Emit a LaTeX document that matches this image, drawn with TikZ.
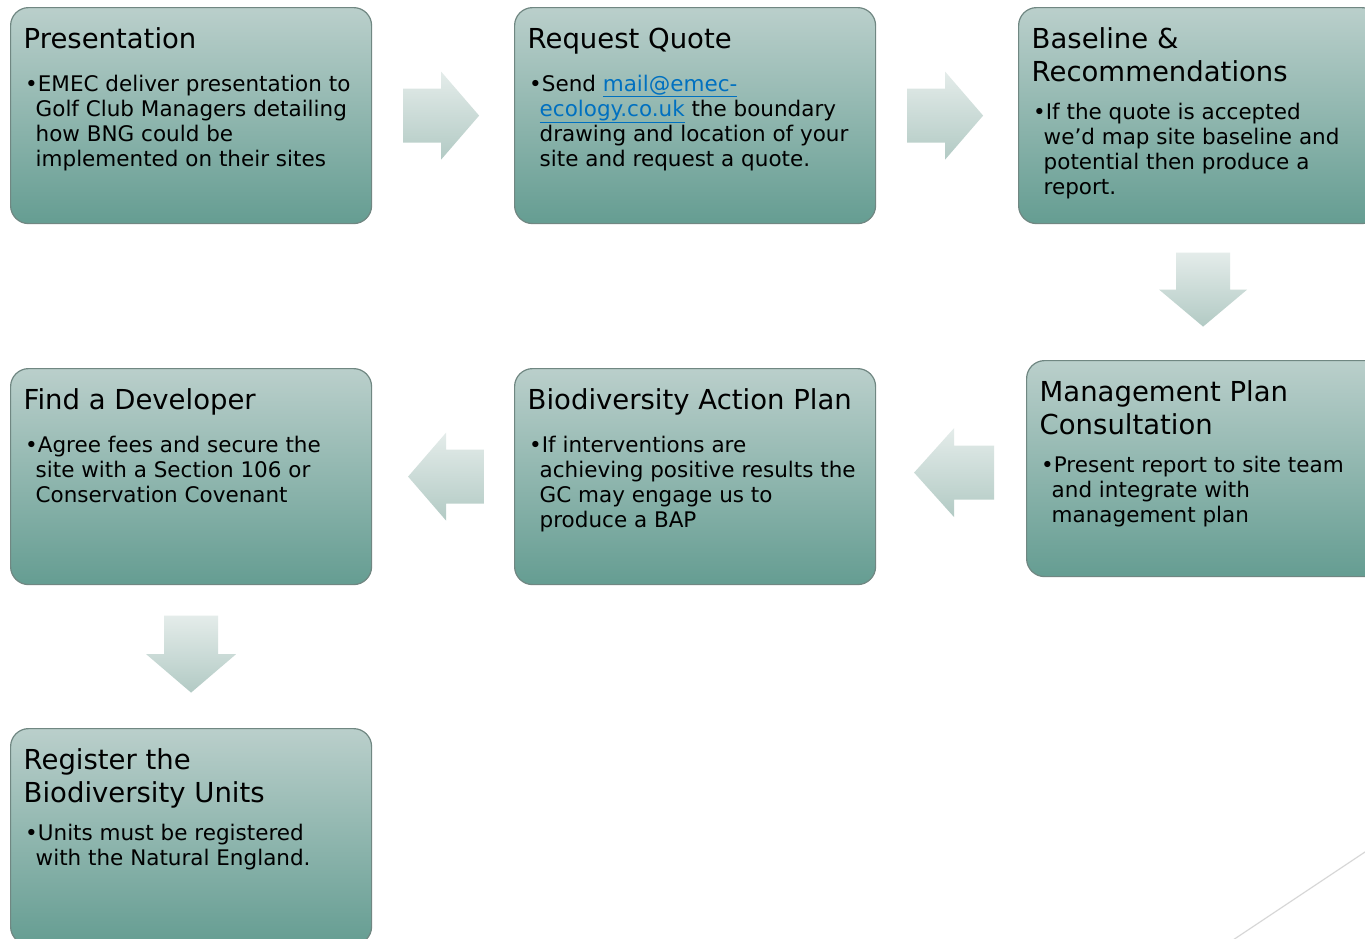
\documentclass[tikz,border=0pt]{standalone}
\usepackage{fontspec}
\setmainfont{DejaVu Sans}
\usetikzlibrary{calc}
\definecolor{boxtop}{RGB}{186,207,203}
\definecolor{boxbot}{RGB}{101,157,146}
\definecolor{boxline}{RGB}{112,135,130}
\definecolor{arrtop}{RGB}{228,236,234}
\definecolor{arrbot}{RGB}{178,202,196}
\definecolor{linkblue}{RGB}{0,112,192}
\definecolor{decoline}{RGB}{215,215,215}
\tikzset{
  stepbox/.style={draw=boxline, line width=1.2pt, rounded corners=18pt,
    top color=boxtop, bottom color=boxbot, minimum width=361pt,
    minimum height=216pt, anchor=north west, inner sep=0pt},
  headtext/.style={anchor=base west, inner sep=0pt, text=black,
    font=\fontsize{27.5}{33}\selectfont},
  bodytext/.style={anchor=base west, inner sep=0pt, text=black,
    font=\fontsize{21.5}{25.3}\selectfont},
  blockarrow/.style={top color=arrtop, bottom color=arrbot, draw=none},
}
\begin{document}
\begin{tikzpicture}[x=1pt,y=-1pt]
\useasboundingbox (0,0) rectangle (1365,938);
\clip (0,0) rectangle (1365,938);
\fill[white] (0,0) rectangle (1365,938);

% boxes
\node[stepbox] (b1) at (10,7) {};
\node[stepbox] (b2) at (514,7) {};
\node[stepbox] (b3) at (1018,7) {};
\node[stepbox] (b4) at (1026,360) {};
\node[stepbox] (b5) at (514,368) {};
\node[stepbox] (b6) at (10,368) {};
\node[stepbox] (b7) at (10,728) {};

% texts
\node[headtext] (h1) at ($(b1.north west)+(13.5,41)$) {Presentation};
\node[bodytext] (t1) at ($(b1.north west)+(15,84)$) {\begin{tabular}[t]{@{}l@{}}
\textbullet EMEC deliver presentation to\\
\hspace*{10.5pt}Golf Club Managers detailing\\
\hspace*{10.5pt}how BNG could be\\
\hspace*{10.5pt}implemented on their sites\end{tabular}};

\node[headtext] (h2) at ($(b2.north west)+(13.5,41)$) {Request Quote};
\node[bodytext] (t2) at ($(b2.north west)+(15,84)$) {\begin{tabular}[t]{@{}l@{}}
\textbullet Send \textcolor{linkblue}{\underline{mail@emec-}}\\
\hspace*{10.5pt}\textcolor{linkblue}{\underline{ecology.co.uk}} the boundary\\
\hspace*{10.5pt}drawing and location of your\\
\hspace*{10.5pt}site and request a quote.\end{tabular}};

\node[headtext] (h3) at ($(b3.north west)+(13.5,41)$) {\begin{tabular}[t]{@{}l@{}}
Baseline \&\\ Recommendations\end{tabular}};
\node[bodytext] (t3) at ($(b3.north west)+(15,112)$) {\begin{tabular}[t]{@{}l@{}}
\textbullet If the quote is accepted\\
\hspace*{10.5pt}we’d map site baseline and\\
\hspace*{10.5pt}potential then produce a\\
\hspace*{10.5pt}report.\end{tabular}};

\node[headtext] (h4) at ($(b4.north west)+(13.5,41)$) {\begin{tabular}[t]{@{}l@{}}
Management Plan\\ Consultation\end{tabular}};
\node[bodytext] (t4) at ($(b4.north west)+(15,112)$) {\begin{tabular}[t]{@{}l@{}}
\textbullet Present report to site team\\
\hspace*{10.5pt}and integrate with\\
\hspace*{10.5pt}management plan\end{tabular}};

\node[headtext] (h5) at ($(b5.north west)+(13.5,41)$) {Biodiversity Action Plan};
\node[bodytext] (t5) at ($(b5.north west)+(15,84)$) {\begin{tabular}[t]{@{}l@{}}
\textbullet If interventions are\\
\hspace*{10.5pt}achieving positive results the\\
\hspace*{10.5pt}GC may engage us to\\
\hspace*{10.5pt}produce a BAP\end{tabular}};

\node[headtext] (h6) at ($(b6.north west)+(13.5,41)$) {Find a Developer};
\node[bodytext] (t6) at ($(b6.north west)+(15,84)$) {\begin{tabular}[t]{@{}l@{}}
\textbullet Agree fees and secure the\\
\hspace*{10.5pt}site with a Section 106 or\\
\hspace*{10.5pt}Conservation Covenant\end{tabular}};

\node[headtext] (h7) at ($(b7.north west)+(13.5,41)$) {\begin{tabular}[t]{@{}l@{}}
Register the\\ Biodiversity Units\end{tabular}};
\node[bodytext] (t7) at ($(b7.north west)+(15,112)$) {\begin{tabular}[t]{@{}l@{}}
\textbullet Units must be registered\\
\hspace*{10.5pt}with the Natural England.\end{tabular}};

% connector positions
\coordinate (m12) at ($(b1.east)!0.5!(b2.west)+(-2,0)$);
\coordinate (m23) at ($(b2.east)!0.5!(b3.west)+(-2,0)$);
\coordinate (m34) at ($(b3.south)!0.5!(b4.north)+(0,-2.5)$);
\coordinate (m45) at ($(b5.east)!0.5!(b4.west)+(3,0)$);
\coordinate (m56) at ($(b6.east)!0.5!(b5.west)+(3,0)$);
\coordinate (m67) at ($(b6.south)!0.5!(b7.north)+(0,-2.5)$);

% right arrows
\path[blockarrow, shift={(m12)}] (-38,-27) -- (0,-27) -- (0,-44) -- (38,0) -- (0,44) -- (0,27) -- (-38,27) -- cycle;
\path[blockarrow, shift={(m23)}] (-38,-27) -- (0,-27) -- (0,-44) -- (38,0) -- (0,44) -- (0,27) -- (-38,27) -- cycle;
% down arrows
\path[blockarrow, shift={(m34)}] (-27,-37) -- (27,-37) -- (27,0) -- (44,0) -- (0,37) -- (-44,0) -- (-27,0) -- cycle;
\path[blockarrow, shift={(m67)}] (-27,-38.5) -- (27,-38.5) -- (27,0) -- (45,0) -- (0,38.5) -- (-45,0) -- (-27,0) -- cycle;
% left arrows
\path[blockarrow, shift={(m45)}] (40,-27) -- (0,-27) -- (0,-44.5) -- (-40,0) -- (0,44.5) -- (0,27) -- (40,27) -- cycle;
\path[blockarrow, shift={(m56)}] (38,-27) -- (0,-27) -- (0,-44) -- (-38,0) -- (0,44) -- (0,27) -- (38,27) -- cycle;

% decorative line
\coordinate (d1) at (1380,842);
\coordinate (d2) at (1221,948);
\draw[decoline, line width=1.2pt] (d1) -- (d2);
\end{tikzpicture}
\end{document}
